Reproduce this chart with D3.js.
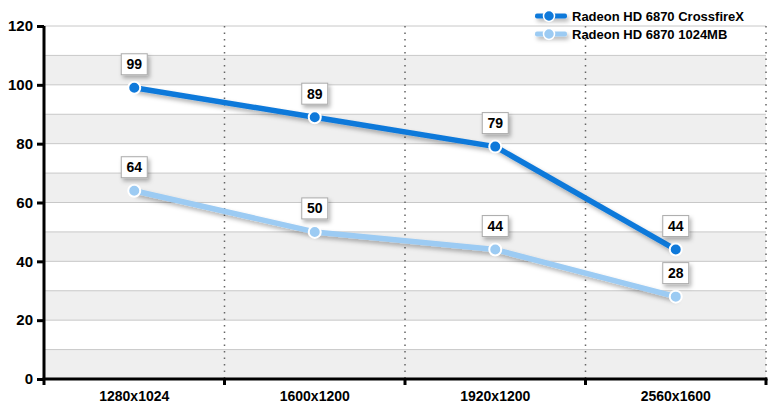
<!DOCTYPE html>
<html><head><meta charset="utf-8">
<script src="https://cdn.jsdelivr.net/npm/d3@7"></script>
<style>body{margin:0;background:#fff;} svg{display:block;font-family:Arial,"Liberation Sans",sans-serif;}</style>
</head><body>
<script>
const categories = ["1280x1024","1600x1200","1920x1200","2560x1600"];
const seriesNames = ["Radeon HD 6870 CrossfireX","Radeon HD 6870 1024MB"];
const crossfire = [99, 89, 79, 44];
const single = [64, 50, 44, 28];
const yTicks = [0,20,40,60,80,100,120];
const colors = ["#0f79da","#9ccbf3"];

const W=775,H=411;
const svg=d3.select("body").append("svg").attr("width",W).attr("height",H);
const defs=svg.append("defs");
const f=defs.append("filter").attr("id","sh").attr("filterUnits","userSpaceOnUse").attr("x",0).attr("y",0).attr("width",W).attr("height",H);
f.append("feDropShadow").attr("dx",2).attr("dy",3).attr("stdDeviation",2).attr("flood-color","#000").attr("flood-opacity",0.3);

const x0=44,x1=766,yB=379,yT=26;
const x=d3.scaleBand().domain(categories).range([x0,x1]);
const y=d3.scaleLinear().domain([0,120]).range([yB,yT]);

// bands
const bands=d3.range(0,120,10);
svg.append("g").selectAll("rect").data(bands.filter(v=>(v/10)%2===0)).join("rect")
 .attr("x",x0).attr("width",x1-x0).attr("y",d=>y(d+10)).attr("height",d=>y(d)-y(d+10)).attr("fill","#efefef");
svg.append("g").selectAll("line").data(d3.range(10,121,10)).join("line")
 .attr("x1",x0).attr("x2",x1).attr("y1",d=>y(d)).attr("y2",d=>y(d)).attr("stroke","#c8c8c8").attr("stroke-width",1);
// vertical dotted
const bounds=categories.slice(1).map(c=>x(c)).concat([x1]);
svg.append("g").selectAll("line").data(bounds).join("line")
 .attr("x1",d=>d).attr("x2",d=>d).attr("y1",yT).attr("y2",yB)
 .attr("stroke","#666").attr("stroke-width",1.5).attr("stroke-dasharray","1.5,5");

// axes
const ya=svg.append("g").attr("transform",`translate(${x0},0)`).call(d3.axisLeft(y).tickValues(yTicks).tickSize(7).tickPadding(4));
ya.select(".domain").attr("stroke","#000").attr("stroke-width",3).attr("d",`M0,${yT}V${yB+1}`);
ya.selectAll(".tick line").attr("stroke","#000").attr("stroke-width",3);
ya.selectAll(".tick text").attr("font-size",15).attr("font-weight","bold").attr("fill","#000").attr("font-family","Arial, Liberation Sans, sans-serif");

const xa=svg.append("g").attr("transform",`translate(0,${yB})`).call(d3.axisBottom(x).tickSize(0).tickPadding(12));
xa.select(".domain").remove();
xa.selectAll(".tick text").attr("font-size",14).attr("font-weight","bold").attr("fill","#000").attr("font-family","Arial, Liberation Sans, sans-serif");
svg.append("line").attr("x1",x0-1.5).attr("x2",x1+1.5).attr("y1",yB).attr("y2",yB).attr("stroke","#000").attr("stroke-width",3);
svg.append("g").selectAll("line").data([x0].concat(bounds)).join("line")
 .attr("x1",d=>d).attr("x2",d=>d).attr("y1",yB).attr("y2",yB+6).attr("stroke","#000").attr("stroke-width",3);

// lines
const data=[crossfire,single];
const line=d3.line().x((d,i)=>x(categories[i])+x.bandwidth()/2).y(d=>y(d));
[1,0].forEach(s=>{
  const g=svg.append("g");
  g.append("path").datum(data[s]).attr("d",line).attr("fill","none").attr("stroke",colors[s]).attr("stroke-width",5.5).attr("stroke-linejoin","round").attr("filter","url(#sh)");
  g.selectAll("circle").data(data[s]).join("circle")
   .attr("cx",(d,i)=>x(categories[i])+x.bandwidth()/2).attr("cy",d=>y(d)).attr("r",6)
   .attr("fill",colors[s]).attr("stroke","#fff").attr("stroke-width",2);
});
// labels
[0,1].forEach(s=>{
  const g=svg.append("g");
  data[s].forEach((d,i)=>{
    const cx=x(categories[i])+x.bandwidth()/2, cy=y(d)-24;
    g.append("rect").attr("x",cx-13).attr("y",cy-10).attr("width",26).attr("height",21)
     .attr("fill","#fff").attr("stroke","#aaa").attr("stroke-width",1).attr("filter","url(#sh)");
    g.append("text").attr("x",cx).attr("y",cy+5.5).attr("text-anchor","middle").attr("font-size",14).attr("font-weight","bold").attr("fill","#000").text(d);
  });
});

// legend
const lg=svg.append("g");
seriesNames.forEach((n,i)=>{
  const ly=16+i*18;
  lg.append("rect").attr("x",535).attr("y",ly-2.5).attr("width",32).attr("height",5).attr("rx",2).attr("fill",colors[i]).attr("filter","url(#sh)");
  lg.append("circle").attr("cx",549).attr("cy",ly).attr("r",5.5).attr("fill",colors[i]).attr("stroke","#fff").attr("stroke-width",1.5);
  lg.append("text").attr("x",572).attr("y",ly+4.5).attr("font-size",13).attr("font-weight","bold").attr("fill","#000").text(n);
});
</script>
</body></html>
